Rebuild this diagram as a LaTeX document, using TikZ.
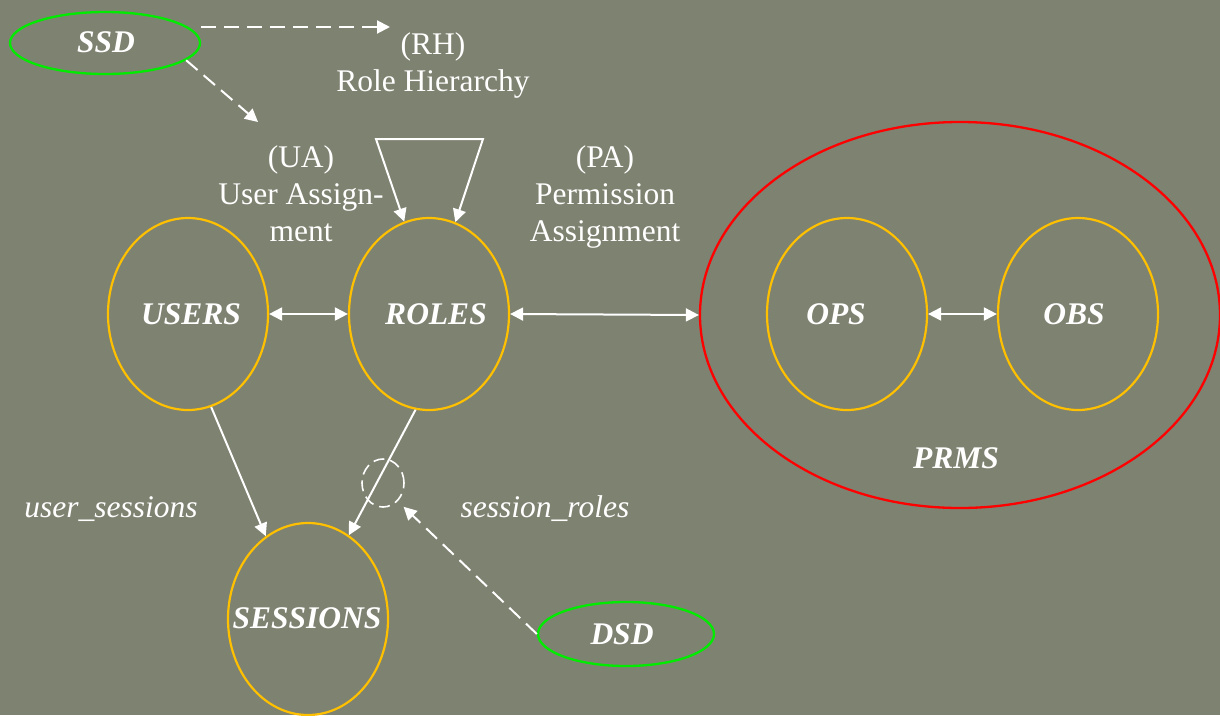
\documentclass[tikz,border=0pt]{standalone}
\usepackage{fontspec}
\setmainfont{Liberation Serif}
\usetikzlibrary{shapes.geometric,arrows.meta,calc}
\definecolor{bg}{RGB}{126,130,112}
\definecolor{setline}{RGB}{255,192,0}
\definecolor{consline}{RGB}{0,235,0}
\definecolor{permline}{RGB}{255,0,0}
\begin{document}
\begin{tikzpicture}[x=1pt,y=-1pt,
  >={Triangle[length=13pt,width=13pt]},
  setnode/.style={ellipse, draw=setline, line width=2.2pt, minimum width=160pt, minimum height=192pt, inner sep=0pt},
  consnode/.style={ellipse, draw=consline, line width=2.3pt, inner sep=0pt},
  setname/.style={text=white, font=\fontsize{31.5}{37}\selectfont\bfseries\itshape, inner sep=0pt},
  relname/.style={text=white, font=\fontsize{31.5}{37}\selectfont, align=center, inner sep=0pt, anchor=north},
  funcname/.style={text=white, font=\fontsize{31.5}{37}\selectfont\itshape, inner sep=0pt, anchor=base},
  link/.style={draw=white, line width=2pt, ->},
  bothlink/.style={draw=white, line width=2pt, <->},
  dashlink/.style={draw=white, line width=2pt, ->, dash pattern=on 15pt off 8pt}]
\useasboundingbox (0,0) rectangle (1220,715);
\fill[bg] (0,0) rectangle (1220,715);

% sets
\node[setnode] (users) at (188,314) {};
\node[setnode] (roles) at (429,314) {};
\node[setnode] (sessions) at (308,619) {};
\node[ellipse, draw=permline, line width=2.3pt, minimum width=520pt, minimum height=386pt, inner sep=0pt] (prms) at (960,315) {};
\node[setnode] (ops) at (847,314) {};
\node[setnode] (obs) at (1078,314) {};

% constraints
\node[consnode, minimum width=190pt, minimum height=62pt] (ssd) at (105,43) {};
\node[consnode, minimum width=176pt, minimum height=64pt] (dsd) at (626,634) {};
\node[ellipse, draw=white, line width=1.6pt, dash pattern=on 11pt off 6pt, minimum width=42pt, minimum height=48pt, inner sep=0pt] (dsdmark) at (383,483) {};

% set names
\node[setname] (usersT) at (191,314) {USERS};
\node[setname] (rolesT) at (436,314) {ROLES};
\node[setname] (sessionsT) at (307,618) {SESSIONS};
\node[setname] (opsT) at (836,314) {OPS};
\node[setname] (obsT) at (1074,314) {OBS};
\node[setname] (prmsT) at (956,458) {PRMS};
\node[setname] (ssdT) at (106,42) {SSD};
\node[setname] (dsdT) at (622,634) {DSD};

% relation labels
\node[relname] (rh) at (433,32.7) {(RH)\\Role Hierarchy};
\node[relname] (ua) at (301,145.7) {(UA)\\User Assign-\\ment};
\node[relname] (pa) at (605,145.7) {(PA)\\Permission\\Assignment};
\node[funcname] (us) at (111,517) {user\_sessions};
\node[funcname] (sr) at (545,517) {session\_roles};

% assignments
\draw[bothlink] (users.east) -- (roles.west);
\draw[bothlink] (roles.east) -- (prms.west);
\draw[bothlink] (ops.east) -- (obs.west);
\coordinate (rhL) at (376,139);
\coordinate (rhR) at (483,139);
\draw[bothlink] (roles.105) -- (rhL) -- (rhR) -- (roles.74);

% sessions
\draw[link] (users.-76) -- (sessions.117);
\draw[link] (roles.-98) -- (sessions.64);

% separation of duty
\coordinate (rhtip) at (390,27);
\coordinate (uatip) at (258,122);
\draw[dashlink] ([yshift=16pt]ssd.east) -- (rhtip);
\draw[dashlink] (ssd.-12) -- (uatip);
\draw[dashlink, shorten >=8pt] (dsd.west) -- (dsdmark.-51);
\end{tikzpicture}
\end{document}
